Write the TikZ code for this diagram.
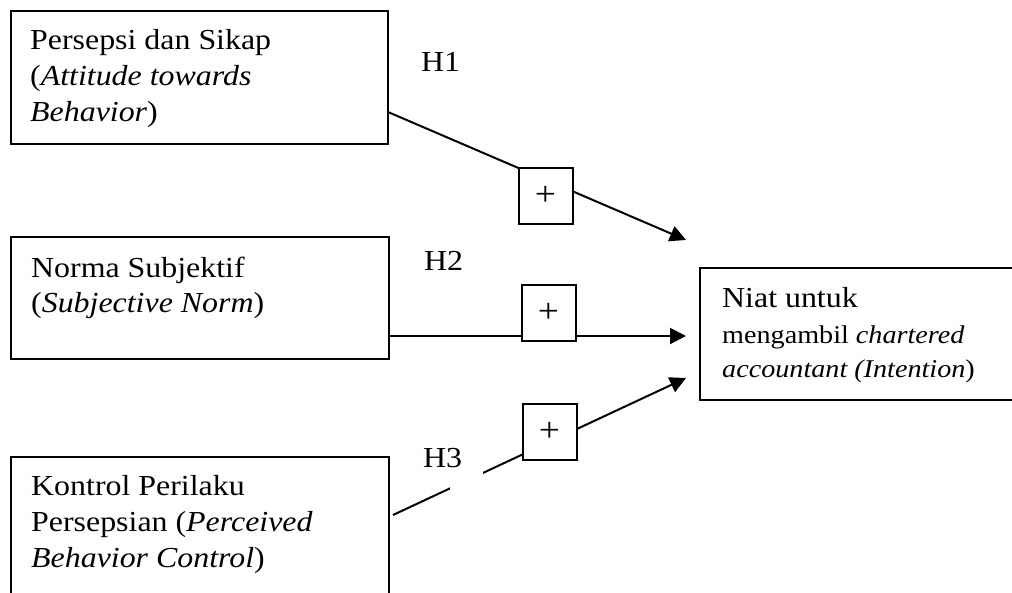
\documentclass[tikz,border=0pt]{standalone}
\usepackage{fontspec}
\setmainfont[FakeStretch=1.1]{Liberation Serif}
\setsansfont{Liberation Sans}
\usetikzlibrary{arrows.meta}
\begin{document}
\begin{tikzpicture}[x=1pt,y=-1pt,
  box/.style={draw, line width=2pt, anchor=north west, inner sep=0pt},
  txt/.style={anchor=base west, inner sep=0pt, font=\fontsize{29}{36}\selectfont},
  stxt/.style={anchor=base west, inner sep=0pt, font=\fontsize{25.6}{34}\selectfont},
  pbox/.style={draw, fill=white, line width=2pt, minimum width=54pt, minimum height=56pt, inner sep=0pt, font=\fontsize{34}{36}\selectfont},
  conn/.style={line width=2pt, -{Triangle[length=16pt,width=16pt]}}]
\useasboundingbox (0,0) rectangle (1012,592);
\clip (0,0) rectangle (1012,592);
\fill[white] (0,0) rectangle (1012,592);
% boxes
\node[box, minimum width=377pt, minimum height=133pt] (b1) at (10,10) {};
\node[box, minimum width=378pt, minimum height=122pt] (b2) at (10,236) {};
\node[box, minimum width=378pt, minimum height=170pt] (b3) at (10,456) {};
\node[box, minimum width=340pt, minimum height=132pt] (bt) at (699,267) {};
% texts
\node[txt] (t1a) at (30,49) {Persepsi dan Sikap};
\node[txt] (t1b) at (30,85) {(\textit{Attitude towards}};
\node[txt] (t1c) at (30,121) {\textit{Behavior})};
\node[txt] (t2a) at (31,277) {Norma Subjektif};
\node[txt] (t2b) at (31,312) {(\textit{Subjective Norm})};
\node[txt] (t3a) at (31,495) {Kontrol Perilaku};
\node[txt] (t3b) at (31,531) {Persepsian (\textit{Perceived}};
\node[txt] (t3c) at (31,567) {\textit{Behavior Control})};
\node[txt] (tta) at (722,307) {Niat untuk};
\node[stxt] (ttb) at (722,343) {mengambil \textit{chartered}};
\node[stxt] (ttc) at (722,377) {\textit{accountant (Intention})};
% hypothesis labels
\node[txt] (h1) at (421,71) {H1};
\node[txt] (h2) at (424,270) {H2};
\node[txt] (h3) at (423,467) {H3};
% connectors
\coordinate (s1) at (388,112);
\coordinate (e1) at (686,240);
\coordinate (s2) at (389,336);
\coordinate (e2) at (686,336);
\coordinate (s3) at (393,515);
\coordinate (e3) at (686,378);
\draw[conn] (s1) -- (e1);
\draw[conn] (s2) -- (e2);
\draw[conn] (s3) -- (e3);
\fill[white] (450,469) rectangle (483,497);
% plus boxes
\node[pbox] (p1) at (545.5,195.5) {\raisebox{-2pt}{+}};
\node[pbox] (p2) at (548.5,313) {\raisebox{-2pt}{+}};
\node[pbox] (p3) at (549.5,431.5) {\raisebox{-2pt}{+}};
\end{tikzpicture}
\end{document}
